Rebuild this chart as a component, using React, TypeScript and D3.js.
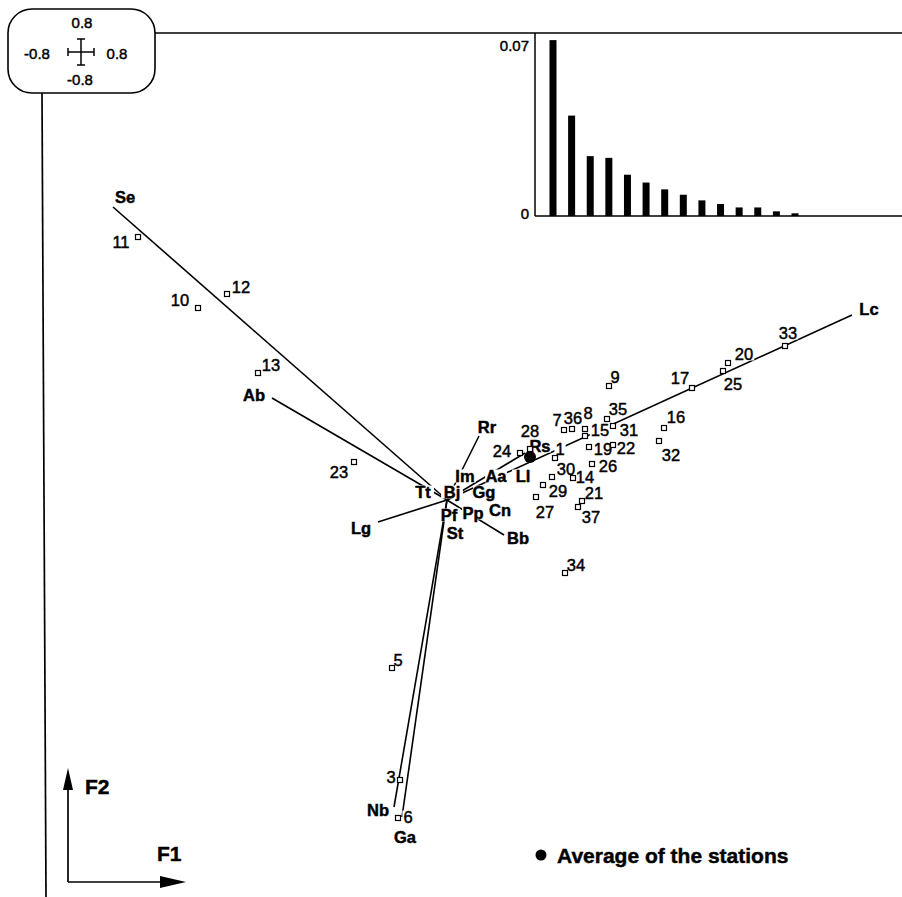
import React from "react";
import * as d3 from "d3";

// eigenvalues shown in the inset
const eigenvalues = [0.072, 0.0411, 0.0245, 0.0238, 0.0169, 0.0137, 0.0109, 0.0087, 0.0064, 0.0049, 0.0035, 0.0035, 0.0019, 0.0011];
const eigenTicks = [0, 0.07];

// stations (F1, F2)
const stationIds = ["1", "3", "5", "6", "7", "8", "9", "10", "11", "12", "13", "14", "15", "16", "17", "19", "20", "21", "22", "23", "24", "25", "26", "27", "28", "29", "30", "31", "32", "33", "34", "35", "36", "37"];
const stationF1 = [0.432, -0.188, -0.22, -0.196, 0.468, 0.552, 0.648, -0.996, -1.236, -0.88, -0.756, 0.504, 0.552, 0.868, 0.98, 0.568, 1.124, 0.54, 0.664, -0.372, 0.292, 1.104, 0.58, 0.356, 0.332, 0.384, 0.42, 0.664, 0.848, 1.352, 0.472, 0.64, 0.5, 0.524];
const stationF2 = [0.168, -1.12, -0.672, -1.272, 0.28, 0.284, 0.456, 0.768, 1.052, 0.824, 0.508, 0.088, 0.256, 0.288, 0.448, 0.212, 0.548, -0.004, 0.22, 0.152, 0.188, 0.516, 0.144, 0.012, 0.204, 0.06, 0.092, 0.296, 0.236, 0.616, -0.292, 0.324, 0.284, -0.028];

// species (F1, F2)
const speciesNames = ["Se", "Ab", "Lg", "Rr", "Bb", "Lc", "Nb", "Ga", "Rs", "Tt", "Bj", "Im", "Gg", "Aa", "Ll", "Pf", "Pp", "Cn", "St"];
const speciesF1 = [-1.336, -0.7, -0.276, 0.128, 0.228, 1.62, -0.212, -0.18, 0.312, -0.096, 0.02, 0.072, 0.148, 0.196, 0.304, 0.008, 0.104, 0.212, 0.032];
const speciesF2 = [1.172, 0.408, -0.088, 0.256, -0.14, 0.74, -1.228, -1.268, 0.188, 0.032, 0.032, 0.096, 0.032, 0.096, 0.096, -0.06, -0.052, -0.04, -0.132];
const speciesWithVector = ["Se", "Ab", "Lg", "Rr", "Bb", "Lc", "Nb", "Ga", "Rs"];

const averageF1 = 0.332;
const averageF2 = 0.172;

const stationLabelOffset: Record<string, [number, number]> = {
  "1": [5, -9], "3": [-9, -3], "5": [6, -8], "6": [10, -1], "7": [-7, -10], "8": [3, -16], "9": [6, -9],
  "10": [-18, -8], "11": [-17, 5], "12": [14, -7], "13": [13, -8], "14": [12, -1], "15": [15, -6],
  "16": [12, -11], "17": [-12, -10], "19": [14, 2], "20": [16, -9], "21": [12, -8], "22": [13, 3],
  "23": [-15, 10], "24": [-18, -2], "25": [10, 13], "26": [16, 2], "27": [9, 15], "28": [0, -18],
  "29": [15, 6], "30": [14, -8], "31": [16, 4], "32": [12, 14], "33": [3, -13], "34": [11, -8],
  "35": [11, -10], "36": [1, -11], "37": [13, 10],
};
const speciesLabelOffset: Record<string, [number, number]> = {
  Se: [12, -10], Ab: [-18, -3], Lg: [-17, 6], Rr: [8, -9], Bb: [14, 3], Lc: [17, -6],
  Nb: [-16, 3], Ga: [3, 20], Rs: [15, -7],
};

const font = "'Liberation Sans', Arial, Helvetica, sans-serif";
const labelSize = 16.5;

export default function App() {
  const W = 902;
  const H = 897;

  // main biplot
  const x = d3.scaleLinear().domain([-1, 1]).range([197, 697]);
  const y = d3.scaleLinear().domain([-1, 1]).range([750, 250]);
  const ox = x(0);
  const oy = y(0);

  // inset
  const yb = d3.scaleLinear().domain([0, 0.07]).range([216, 45]);
  const xb = d3.scaleLinear().domain([0, 13]).range([553, 795]);
  const barW = 7;

  const ink = { stroke: "#000", strokeWidth: 0.45 };

  const stationLabels = stationIds.map((id, i) => {
    const [dx, dy] = stationLabelOffset[id] || [8, -8];
    return { id, x: x(stationF1[i]) + dx, y: y(stationF2[i]) + dy, w: id.length * labelSize * 0.56 };
  });
  const speciesLabels = speciesNames.map((s, i) => {
    const [dx, dy] = speciesLabelOffset[s] || [0, 0];
    return { id: s, x: x(speciesF1[i]) + dx, y: y(speciesF2[i]) + dy, w: s.length * labelSize * 0.6 };
  });
  const allLabels = [...stationLabels, ...speciesLabels];

  return (
    <svg width={W} height={H} style={{ position: "absolute", left: 0, top: 0, background: "#fff" }} fontFamily={font}>
      <rect width={W} height={H} fill="#fff" />

      {/* frame */}
      <line x1={155} y1={33} x2={902} y2={33} stroke="#000" strokeWidth={1.5} />
      <line x1={42} y1={93} x2={46} y2={897} stroke="#000" strokeWidth={1.7} />

      {/* scale box */}
      <rect x={8} y={9} width={147} height={84} rx={24} fill="#fff" stroke="#000" strokeWidth={1.6} />
      <g stroke="#000" strokeWidth={1.5}>
        <line x1={68} y1={52} x2={94} y2={52} />
        <line x1={81} y1={39} x2={81} y2={65} />
        <line x1={68} y1={48} x2={68} y2={56} />
        <line x1={94} y1={48} x2={94} y2={56} />
        <line x1={77} y1={39} x2={85} y2={39} />
        <line x1={77} y1={65} x2={85} y2={65} />
      </g>
      <g fontSize={15} textAnchor="middle" dominantBaseline="central" {...ink}>
        <text x={82} y={22}>0.8</text>
        <text x={37} y={53}>-0.8</text>
        <text x={117} y={53}>0.8</text>
        <text x={80} y={79}>-0.8</text>
      </g>

      {/* inset eigenvalue bars */}
      <line x1={535} y1={33} x2={535} y2={216} stroke="#000" strokeWidth={1.5} />
      <line x1={535} y1={216} x2={902} y2={216} stroke="#000" strokeWidth={1.5} />
      {eigenvalues.map((v, i) => (
        <rect key={i} x={xb(i) - barW / 2} y={yb(v)} width={barW} height={yb(0) - yb(v)} fill="#000" />
      ))}
      {eigenTicks.map((t) => (
        <text key={t} x={529} y={yb(t) - (t === 0 ? 3 : 0)} fontSize={15} textAnchor="end" dominantBaseline="central" {...ink}>
          {String(t)}
        </text>
      ))}

      {/* species vectors */}
      {speciesNames.map((s, i) =>
        speciesWithVector.includes(s) ? (
          <line key={s} x1={ox} y1={oy} x2={x(speciesF1[i])} y2={y(speciesF2[i])} stroke="#000" strokeWidth={1.6} />
        ) : null
      )}

      {/* white knock-outs behind labels */}
      {allLabels.map((d) => (
        <rect key={"bg" + d.id} x={d.x - d.w / 2 - 1} y={d.y - 6.5} width={d.w + 2} height={13} fill="#fff" />
      ))}

      {/* station labels */}
      <g fontSize={labelSize} textAnchor="middle" dominantBaseline="central" {...ink}>
        {stationLabels.map((d) => (
          <text key={d.id} x={d.x} y={d.y}>{d.id}</text>
        ))}
      </g>

      {/* species labels */}
      <g fontSize={labelSize} fontWeight="bold" textAnchor="middle" dominantBaseline="central" {...ink}>
        {speciesLabels.map((d) => (
          <text key={d.id} x={d.x} y={d.y}>{d.id}</text>
        ))}
      </g>

      {/* station squares */}
      {stationIds.map((id, i) => (
        <rect key={id} x={x(stationF1[i]) - 2.5} y={y(stationF2[i]) - 2.5} width={5} height={5} fill="#fff" stroke="#000" strokeWidth={1.2} />
      ))}

      {/* average of stations */}
      <circle cx={x(averageF1)} cy={y(averageF2)} r={6} fill="#000" />

      {/* legend */}
      <circle cx={541} cy={855} r={5.5} fill="#000" />
      <text x={557} y={855} fontSize={21} fontWeight="bold" dominantBaseline="central" {...ink}>
        Average of the stations
      </text>

      {/* axis indicators */}
      <g stroke="#000" strokeWidth={1.7}>
        <line x1={68} y1={882} x2={68} y2={785} />
        <line x1={68} y1={882} x2={165} y2={882} />
      </g>
      <path d="M68,768 L63,790 L73,790 Z" fill="#000" />
      <path d="M186,882 L160,876 L160,888 Z" fill="#000" />
      <text x={85} y={786} fontSize={21} fontWeight="bold" dominantBaseline="central" {...ink}>F2</text>
      <text x={157} y={853} fontSize={21} fontWeight="bold" dominantBaseline="central" {...ink}>F1</text>
    </svg>
  );
}
